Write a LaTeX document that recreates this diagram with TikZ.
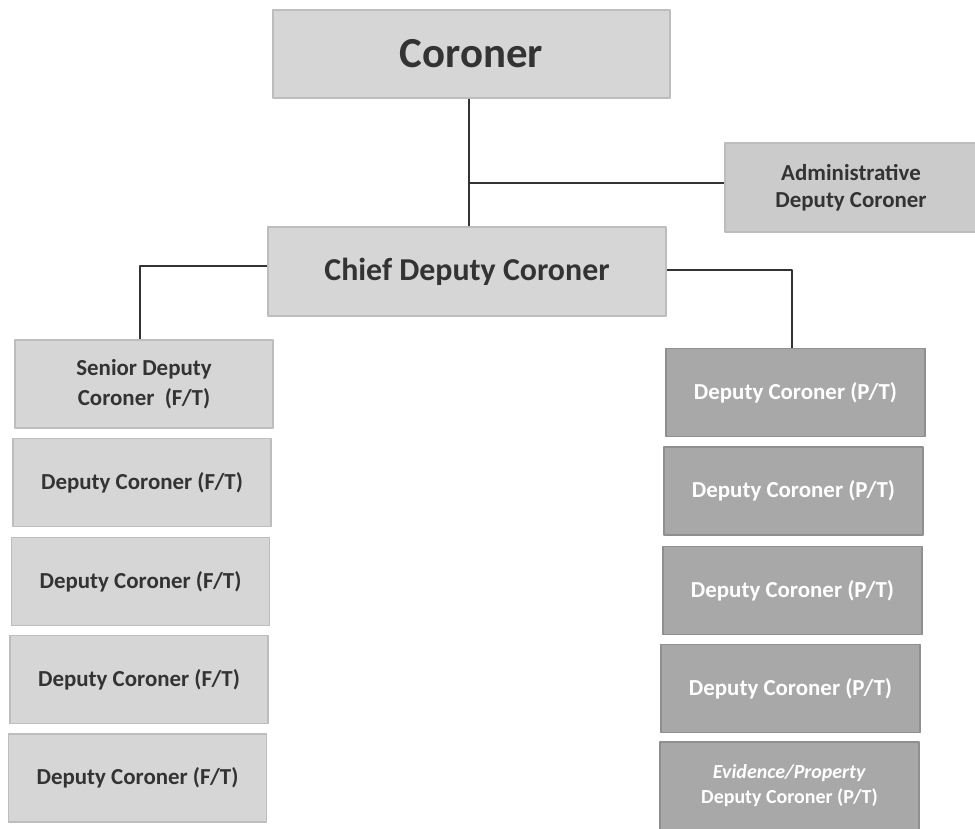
\documentclass[tikz,border=0pt]{standalone}
\usepackage{fontspec}
\setmainfont{Carlito}
\usepackage{tikz}
\usetikzlibrary{shapes}

\definecolor{boxlight}{HTML}{D6D6D6}
\definecolor{boxdark}{HTML}{A8A8A8}
\definecolor{boxedge}{HTML}{BDBDBD}
\definecolor{inkdark}{HTML}{333333}

\begin{document}
\begin{tikzpicture}[x=1bp,y=-1bp,line join=bevel,
    post/.style={draw=boxedge,line width=1.2bp,fill=boxlight,text=inkdark,font=\bfseries,align=center,inner sep=0pt},
    ftpost/.style={post,minimum width=258bp,minimum height=88bp,font=\bfseries\fontsize{23}{27}\selectfont},
    ptpost/.style={post,fill=boxdark,draw=boxdark!85!black,text=white,minimum width=259bp,minimum height=88bp,font=\bfseries\fontsize{23}{27}\selectfont},
    link/.style={draw=inkdark,line width=1.6bp}]
		\useasboundingbox (0,0) rectangle (975,829);
		  \node (coroner) at (471.5,54) [post,minimum width=397bp,minimum height=88bp,font=\bfseries\fontsize{43}{48}\selectfont] {Coroner};
		  \node (admin) at (851,187.5) [post,fill=boxlight!95!black,minimum width=252bp,minimum height=89bp,font=\bfseries\fontsize{23}{27}\selectfont] {Administrative\\Deputy Coroner};
		  \node (chief) at (467,271.5) [post,minimum width=398bp,minimum height=89bp,font=\bfseries\fontsize{32}{36}\selectfont] {Chief Deputy Coroner};
		  % full time column
		  \node (senior) at (144,384) [ftpost,font=\bfseries\fontsize{23}{30}\selectfont] {Senior Deputy\\Coroner\ \ (F/T)};
		  \node (ft1) at (142,482.5) [ftpost] {Deputy Coroner (F/T)};
		  \node (ft2) at (140.5,581.5) [ftpost] {Deputy Coroner (F/T)};
		  \node (ft3) at (139,679.5) [ftpost] {Deputy Coroner (F/T)};
		  \node (ft4) at (137.5,778) [ftpost] {Deputy Coroner (F/T)};
		  % part time column
		  \node (pt1) at (795.5,392.5) [ptpost] {Deputy Coroner (P/T)};
		  \node (pt2) at (793.5,491) [ptpost] {Deputy Coroner (P/T)};
		  \node (pt3) at (792.5,590.5) [ptpost] {Deputy Coroner (P/T)};
		  \node (pt4) at (790.5,688.5) [ptpost] {Deputy Coroner (P/T)};
		  \node (evid) at (789.5,786) [ptpost,font=\bfseries\fontsize{20}{25}\selectfont] {\textit{Evidence/Property}\\Deputy Coroner (P/T)};
		  \coordinate (tee) at (469,183);
		  \coordinate (lbend) at (140,266);
		  \coordinate (rbend) at (792,270);
		  \draw [link] (coroner.south -| tee) -- (chief.north -| tee);
		  \draw [link] (tee) -- (tee -| admin.west);
		  \draw [link] (chief.west |- lbend) -- (lbend) -- (lbend |- senior.north);
		  \draw [link] (chief.east |- rbend) -- (rbend) -- (rbend |- pt1.north);
		
	\end{tikzpicture}
\end{document}
